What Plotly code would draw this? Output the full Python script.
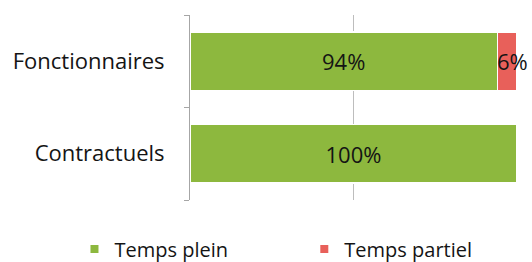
import plotly.graph_objects as go

categories = ["Fonctionnaires", "Contractuels"]
temps_plein = [94, 100]
temps_partiel = [6, 0]
series_names = ["Temps plein", "Temps partiel"]
colors = ["#8DB83E", "#E8605A"]
FONT = "Open Sans"
FS = 22
LEG_FS = 20

fig = go.Figure()
fig.add_trace(go.Bar(
    y=categories, x=temps_plein, orientation="h", name=series_names[0],
    marker=dict(color=colors[0], line=dict(color="white", width=1.5)),
    text=[f"{v}%" for v in temps_plein], textposition="inside",
    insidetextanchor="middle", textfont=dict(size=FS, color="#141414", family=FONT),
    showlegend=False,
))
fig.add_trace(go.Bar(
    y=categories, x=temps_partiel, orientation="h", name=series_names[1],
    marker=dict(color=colors[1], line=dict(color="white", width=1.5)),
    textposition="none", showlegend=False,
))
for cat, a, b in zip(categories, temps_plein, temps_partiel):
    if b > 0:
        fig.add_annotation(x=a + b / 2, y=cat, text=f"{b}%", showarrow=False,
                           xanchor="center", xshift=5,
                           font=dict(size=FS, color="#141414", family=FONT))
legend_x = [0.14, 0.572]
for i, (name, c) in enumerate(zip(series_names, colors)):
    fig.add_trace(go.Scatter(x=[None], y=[None], mode="markers", name=name,
                             legend="legend" if i == 0 else f"legend{i+1}",
                             marker=dict(symbol="square", size=8, color=c)))

leg_common = dict(orientation="h", xref="container", yref="container",
                  xanchor="left", yanchor="middle", y=0.05,
                  font=dict(size=LEG_FS, family=FONT, color="#141414"),
                  bgcolor="rgba(0,0,0,0)", itemwidth=30)

fig.update_layout(
    width=532, height=262, barmode="stack", bargap=0.365,
    margin=dict(l=190, r=15, t=15, b=62, autoexpand=False),
    paper_bgcolor="white", plot_bgcolor="white",
    font=dict(family=FONT, size=FS, color="#141414"),
    showlegend=True,
    legend=dict(x=legend_x[0], **leg_common),
    legend2=dict(x=legend_x[1], **leg_common),
    xaxis=dict(range=[0, 100], dtick=50, showgrid=True, gridcolor="#bdbdbd",
               gridwidth=1, showticklabels=False, zeroline=False, showline=False,
               fixedrange=True),
    yaxis=dict(categoryorder="array", categoryarray=categories[::-1],
               showline=True, linecolor="#a6a6a6", linewidth=1,
               ticks="outside", tickson="boundaries", ticklen=5,
               tickcolor="#a6a6a6", ticklabelstandoff=20, showgrid=False),
)
fig.write_html("out.html", config={"displayModeBar": False},
               post_script="document.body.style.margin='0';document.body.style.overflow='hidden';")
